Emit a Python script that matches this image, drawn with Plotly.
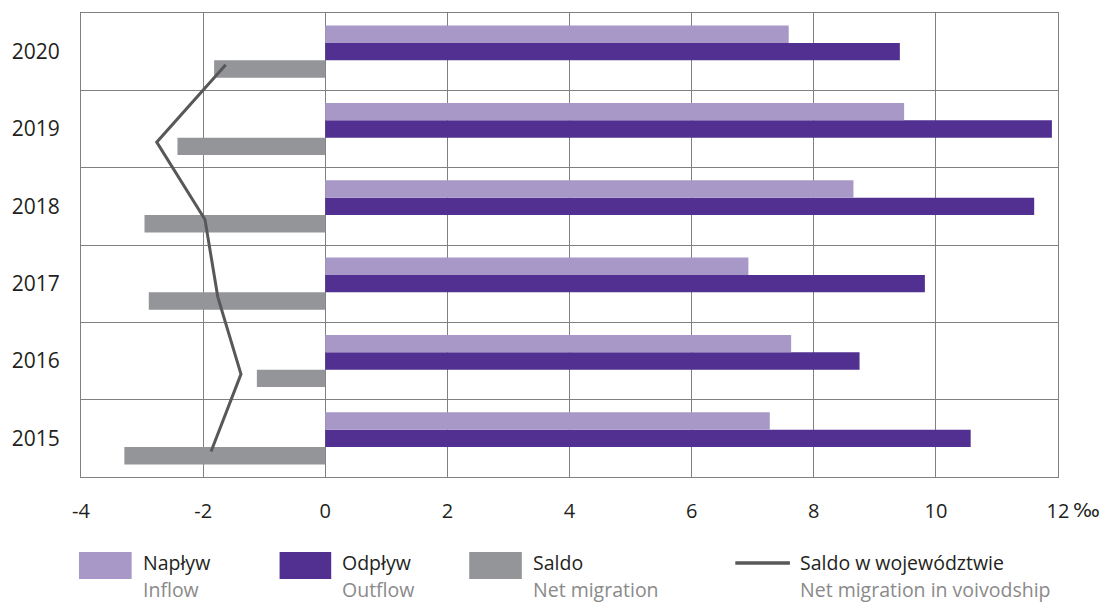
import plotly.graph_objects as go

years = ["2015", "2016", "2017", "2018", "2019", "2020"]
inflow = [7.28, 7.63, 6.93, 8.65, 9.48, 7.59]
outflow = [10.57, 8.75, 9.82, 11.61, 11.90, 9.41]
saldo = [-3.29, -1.12, -2.89, -2.96, -2.42, -1.82]
saldo_voiv = [-1.87, -1.38, -1.76, -1.97, -2.76, -1.63]
x_ticks = [-4, -2, 0, 2, 4, 6, 8, 10, 12]
x_ticktext = ["-4", "-2", "0", "2", "4", "6", "8", "10", "12"]

C_IN = "#a898c8"
C_OUT = "#513091"
C_SAL = "#939598"
C_LINE = "#58585a"
FONT = "Open Sans"

W, H = 1104, 603
L, R, T, B = 74, 1058, 13, 477

def px(X):
    return (X - L) / (R - L)

def py(Y):
    return (B - Y) / (B - T)

pos = list(range(len(years)))

fig = go.Figure()
fig.add_trace(go.Bar(y=pos, x=saldo, orientation="h", marker=dict(color=C_SAL, line=dict(width=0)), name="Saldo"))
fig.add_trace(go.Bar(y=pos, x=outflow, orientation="h", marker=dict(color=C_OUT, line=dict(width=0)), name="Odpływ"))
fig.add_trace(go.Bar(y=pos, x=inflow, orientation="h", marker=dict(color=C_IN, line=dict(width=0)), name="Napływ"))
fig.add_trace(go.Scatter(y=[p - 0.17 for p in pos], x=saldo_voiv, mode="lines",
                         line=dict(color=C_LINE, width=3), name="Saldo w województwie"))

grid = "#808080"
fig.update_layout(
    width=W, height=H,
    margin=dict(l=L, r=W - R, t=T, b=H - B, pad=0),
    paper_bgcolor="white", plot_bgcolor="white",
    barmode="group", bargap=0.325, bargroupgap=0,
    showlegend=False,
    font=dict(family=FONT, color="#231f20"),
    xaxis=dict(range=[-4, 12], tickvals=x_ticks, ticktext=x_ticktext,
               showgrid=True, gridcolor=grid, gridwidth=1, zeroline=False,
               showline=True, linecolor=grid, linewidth=1, mirror=True,
               ticks="", tickfont=dict(size=20, family=FONT, color="#231f20"),
               ticklabelstandoff=16),
    yaxis=dict(range=[-0.5, 5.5], tickvals=pos, ticktext=years,
               showgrid=False, zeroline=False,
               showline=True, linecolor=grid, linewidth=1, mirror=True,
               ticks="", tickfont=dict(size=21, family=FONT, color="#231f20"),
               ticklabelstandoff=16,
               minor=dict(tick0=0.5, dtick=1, showgrid=True, gridcolor=grid, gridwidth=1, ticks="")),
)

# per-mille sign after last tick
fig.add_annotation(x=px(1071), y=py(510), xref="paper", yref="paper", text="‰",
                   showarrow=False, xanchor="left", yanchor="middle",
                   font=dict(size=20, family="DejaVu Sans", color="#231f20"))

# custom legend
legend_items = [
    ("box", C_IN, 72, 125, "Napływ", "Inflow", 135),
    ("box", C_OUT, 274, 326, "Odpływ", "Outflow", 336),
    ("box", C_SAL, 465, 518, "Saldo", "Net migration", 528),
    ("line", C_LINE, 733, 788, "Saldo w województwie", "Net migration in voivodship", 797),
]
for kind, col, x0, x1, t1, t2, tx in legend_items:
    if kind == "box":
        fig.add_shape(type="rect", xref="paper", yref="paper",
                      x0=px(x0), x1=px(x1), y0=py(579), y1=py(552),
                      fillcolor=col, line=dict(width=0))
    else:
        fig.add_shape(type="line", xref="paper", yref="paper",
                      x0=px(x0), x1=px(x1), y0=py(563), y1=py(563),
                      line=dict(color=col, width=3.5))
    fig.add_annotation(x=px(tx), y=py(562), xref="paper", yref="paper", text=t1,
                       showarrow=False, xanchor="left", yanchor="middle", borderpad=0,
                       font=dict(size=19.5, family=FONT, color="#231f20"))
    fig.add_annotation(x=px(tx), y=py(589), xref="paper", yref="paper", text=t2,
                       showarrow=False, xanchor="left", yanchor="middle", borderpad=0,
                       font=dict(size=19.5, family=FONT, color="#8a8a8a"))

fig.write_html("out.html", config={"displayModeBar": False},
               post_script="document.body.style.margin='0';document.body.style.overflow='hidden';")
